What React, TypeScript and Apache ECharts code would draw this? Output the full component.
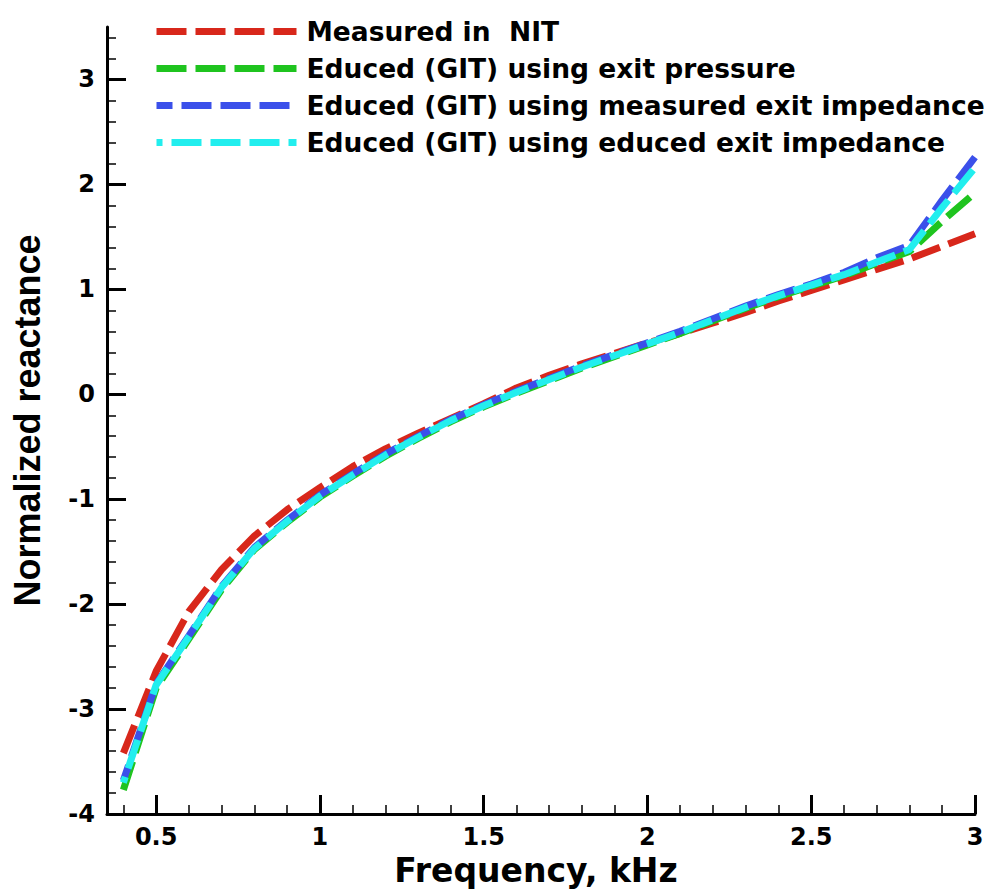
import React, { useEffect, useRef } from "react";
import * as echarts from "echarts";

const freq = [0.4, 0.5, 0.6, 0.7, 0.8, 0.9, 1.0, 1.1, 1.2, 1.3, 1.4, 1.5, 1.6, 1.7, 1.8, 1.9, 2.0, 2.1, 2.2, 2.3, 2.4, 2.5, 2.6, 2.7, 2.8, 2.9, 3.0];

const measuredNIT = [-3.42, -2.64, -2.07, -1.67, -1.35, -1.10, -0.89, -0.69, -0.52, -0.37, -0.23, -0.09, 0.06, 0.18, 0.29, 0.39, 0.49, 0.58, 0.68, 0.78, 0.89, 0.99, 1.09, 1.19, 1.29, 1.41, 1.53];
const educedExitPressure = [-3.77, -2.80, -2.33, -1.86, -1.48, -1.22, -0.98, -0.78, -0.59, -0.42, -0.26, -0.12, 0.01, 0.13, 0.25, 0.36, 0.47, 0.58, 0.70, 0.82, 0.93, 1.03, 1.13, 1.25, 1.36, 1.65, 1.92];
const educedMeasuredImpedance = [-3.68, -2.76, -2.30, -1.83, -1.46, -1.20, -0.96, -0.76, -0.57, -0.40, -0.24, -0.10, 0.03, 0.15, 0.27, 0.38, 0.49, 0.60, 0.72, 0.84, 0.95, 1.05, 1.16, 1.30, 1.42, 1.85, 2.26];
const educedEducedImpedance = [-3.70, -2.77, -2.31, -1.84, -1.47, -1.21, -0.97, -0.77, -0.58, -0.41, -0.25, -0.11, 0.02, 0.14, 0.26, 0.37, 0.48, 0.59, 0.71, 0.83, 0.94, 1.04, 1.14, 1.26, 1.38, 1.78, 2.16];

const seriesNames = [
  "Measured in  NIT",
  "Educed (GIT) using exit pressure",
  "Educed (GIT) using measured exit impedance",
  "Educed (GIT) using educed exit impedance",
];
const seriesColors = ["#d8271b", "#1fc41f", "#3b50ea", "#22eeee"];

const xMajorTicks = [0.5, 1, 1.5, 2, 2.5, 3];
const xMinorTicks = [0.4, 0.6, 0.7, 0.8, 0.9, 1.1, 1.2, 1.3, 1.4, 1.6, 1.7, 1.8, 1.9, 2.1, 2.2, 2.3, 2.4, 2.6, 2.7, 2.8, 2.9];
const yMajorTicks = [-4, -3, -2, -1, 0, 1, 2, 3];
const yMinorTicks = [-3.8, -3.6, -3.4, -3.2, -2.8, -2.6, -2.4, -2.2, -1.8, -1.6, -1.4, -1.2, -0.8, -0.6, -0.4, -0.2, 0.2, 0.4, 0.6, 0.8, 1.2, 1.4, 1.6, 1.8, 2.2, 2.4, 2.6, 2.8, 3.2, 3.4];

const X_MIN = 0.35;
const X_MAX = 3;
const Y_MIN = -4;
const Y_MAX = 3.5;

export default function App() {
  const ref = useRef<HTMLDivElement>(null);

  useEffect(() => {
    if (!ref.current) return;
    const chart = echarts.init(ref.current, undefined, { renderer: "svg" });
    const labelFont = { fontFamily: "DejaVu Sans", fontWeight: "bold" as const, fontSize: 24, color: "#000" };
    const allData = [measuredNIT, educedExitPressure, educedMeasuredImpedance, educedEducedImpedance];
    const offsets = [0, 0, 14, 24];

    const option: any = {
      animation: false,
      backgroundColor: "#fff",
      grid: { left: 107, right: 22, top: 27, bottom: 78, containLabel: false },
      legend: {
        data: seriesNames,
        orient: "vertical",
        left: 148,
        top: 13,
        itemWidth: 140,
        itemHeight: 27,
        itemGap: 10,
        selectedMode: false,
        lineStyle: { width: 7 },
        itemStyle: { opacity: 0, borderWidth: 0 },
        textStyle: {
          fontFamily: "DejaVu Sans",
          fontWeight: "bold",
          fontSize: 26.5,
          color: "#000",
          padding: [0, 0, 6, 5],
        },
      },
      xAxis: [
        {
          type: "value",
          min: X_MIN,
          max: X_MAX,
          position: "bottom",
          name: "Frequency, kHz",
          nameLocation: "middle",
          nameGap: 31,
          nameTextStyle: { fontFamily: "DejaVu Sans", fontWeight: "bold", fontSize: 33, color: "#000", padding: [0, 10, 0, 0] },
          axisLine: { show: true, onZero: false, lineStyle: { color: "#000", width: 3 } },
          axisTick: { show: true, inside: true, length: 19, customValues: xMajorTicks, lineStyle: { color: "#000", width: 3 } },
          axisLabel: { ...labelFont, margin: 11, customValues: xMajorTicks },
          splitLine: { show: false },
        },
        {
          type: "value",
          min: X_MIN,
          max: X_MAX,
          position: "bottom",
          axisLine: { show: false, onZero: false },
          axisTick: { show: true, inside: true, length: 9, customValues: xMinorTicks, lineStyle: { color: "#000", width: 1.5 } },
          axisLabel: { show: false },
          splitLine: { show: false },
        },
      ],
      yAxis: [
        {
          type: "value",
          min: Y_MIN,
          max: Y_MAX,
          position: "left",
          name: "Normalized reactance",
          nameLocation: "middle",
          nameGap: 62,
          nameTextStyle: { fontFamily: "Liberation Sans", fontWeight: "bold", fontSize: 36, color: "#000" },
          axisLine: { show: true, onZero: false, lineStyle: { color: "#000", width: 3 } },
          axisTick: { show: true, inside: true, length: 19, customValues: yMajorTicks, lineStyle: { color: "#000", width: 3 } },
          axisLabel: { ...labelFont, margin: 12, customValues: yMajorTicks },
          splitLine: { show: false },
        },
        {
          type: "value",
          min: Y_MIN,
          max: Y_MAX,
          position: "left",
          axisLine: { show: false, onZero: false },
          axisTick: { show: true, inside: true, length: 9, customValues: yMinorTicks, lineStyle: { color: "#000", width: 1.5 } },
          axisLabel: { show: false },
          splitLine: { show: false },
        },
      ],
      series: seriesNames.map((name, i) => ({
        name,
        type: "line",
        xAxisIndex: 0,
        yAxisIndex: 0,
        symbol: "none",
        silent: true,
        z: 2 + i,
        data: freq.map((f, j) => [f, allData[i][j]]),
        itemStyle: { color: seriesColors[i] },
        lineStyle: { color: seriesColors[i], width: 7, type: [30, 9], dashOffset: offsets[i], cap: "butt" },
      })),
    };
    chart.setOption(option);
    return () => chart.dispose();
  }, []);

  return <div ref={ref} style={{ position: "absolute", left: 0, top: 0, width: 997, height: 892 }} />;
}
